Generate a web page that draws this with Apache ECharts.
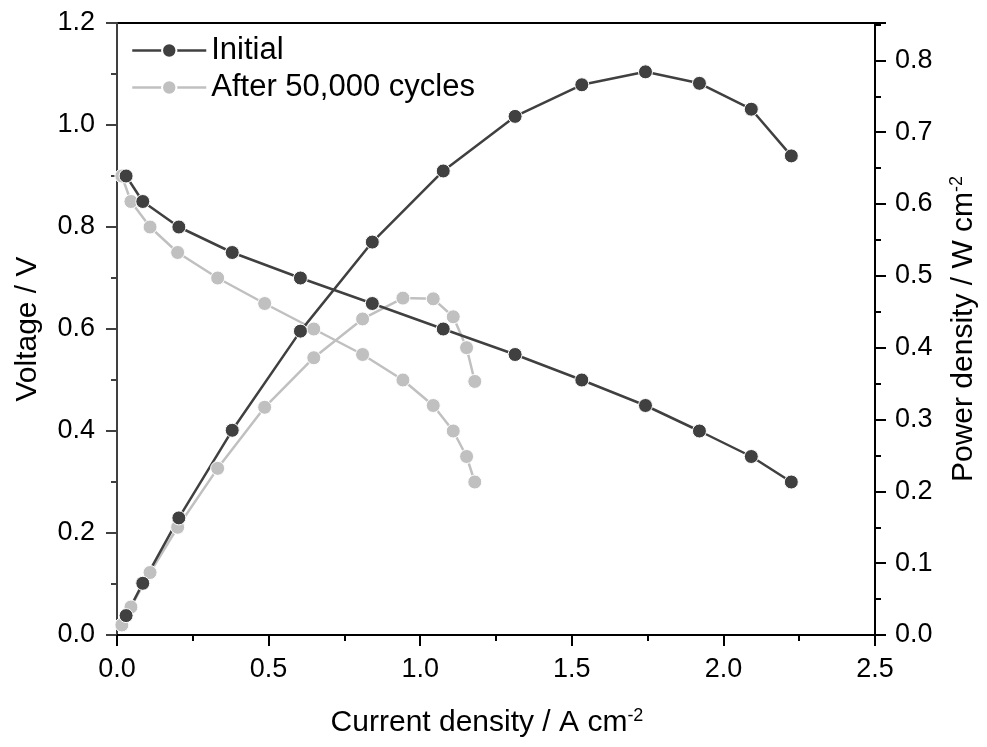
<!DOCTYPE html>
<html><head><meta charset="utf-8">
<script src="https://cdn.jsdelivr.net/npm/echarts@6/dist/echarts.min.js"></script>
<style>html,body{margin:0;padding:0;background:#fff}#c{width:987px;height:747px}</style>
</head><body><div id="c"></div>
<script>
// Initial
const initCurrent = [0.03, 0.085, 0.204, 0.38, 0.605, 0.842, 1.076, 1.313, 1.533, 1.743, 1.921, 2.092, 2.224];
const initVoltage = [0.9, 0.85, 0.8, 0.75, 0.7, 0.65, 0.6, 0.55, 0.5, 0.45, 0.4, 0.35, 0.3];
const initPower   = [0.027, 0.072, 0.163, 0.285, 0.423, 0.547, 0.646, 0.722, 0.766, 0.784, 0.768, 0.732, 0.667];
// After 50,000 cycles
const agedCurrent = [0.016, 0.046, 0.109, 0.2, 0.332, 0.487, 0.649, 0.81, 0.943, 1.043, 1.109, 1.153, 1.18];
const agedVoltage = [0.9, 0.85, 0.8, 0.75, 0.7, 0.65, 0.6, 0.55, 0.5, 0.45, 0.4, 0.35, 0.3];
const agedPower   = [0.014, 0.039, 0.087, 0.15, 0.232, 0.317, 0.386, 0.44, 0.469, 0.468, 0.443, 0.4, 0.353];

const names = ['Initial', 'After 50,000 cycles'];
const DARK = '#404040', LIGHT = '#c0c0c0';
const FONT = 'Liberation Sans';

const pairs = (xs, ys) => xs.map((x, i) => [x, ys[i]]);

function mkSeries(name, color, xs, ys, axis) {
  return {
    name, type: 'line', yAxisIndex: axis,
    data: pairs(xs, ys),
    symbol: 'circle', symbolSize: 14,
    lineStyle: { color, width: 2.5 },
    itemStyle: { color, borderColor: '#fff', borderWidth: 1 },
    emphasis: { disabled: true },
    animation: false
  };
}

const chart = echarts.init(document.getElementById('c'), null, { renderer: 'canvas' });
const axisCommon = (color, margin) => ({
  axisLine: { show: true, lineStyle: { color, width: 2 } },
  axisTick: { show: true, length: 11, inside: false, lineStyle: { color, width: 2 } },
  minorTick: { show: true, splitNumber: 2, length: 6, lineStyle: { color, width: 2 } },
  splitLine: { show: false },
  axisLabel: { color: '#000', fontSize: 27, fontFamily: FONT, margin, formatter: v => v.toFixed(1) }
});
const nameStyle = (pad) => ({
  color: '#000', fontSize: 30, fontFamily: FONT, padding: pad,
  rich: { sup: { fontSize: 18, fontFamily: FONT, color: '#000', verticalAlign: 'top', padding: [0, 0, 14, 0] } }
});

chart.setOption({
  backgroundColor: '#fff',
  animation: false,
  grid: { left: 117, right: 110, top: 23, bottom: 112, show: true, borderColor: '#000', borderWidth: 2, backgroundColor: 'transparent' },
  legend: {
    data: names, orient: 'vertical', left: 126, top: 30,
    itemWidth: 74, itemHeight: 18, itemGap: 6,
    lineStyle: { width: 2.5 },
    textStyle: { fontSize: 31, fontFamily: FONT, color: '#000' },
    selectedMode: false
  },
  xAxis: Object.assign(axisCommon('#000', 21), {
    type: 'value', min: 0, max: 2.5, interval: 0.5,
    name: 'Current density / A cm{sup|-2}', nameLocation: 'middle', nameGap: 72,
    nameTextStyle: nameStyle([0, 18, 0, 0])
  }),
  yAxis: [
    Object.assign(axisCommon(DARK, 22), {
      type: 'value', min: 0, max: 1.2, interval: 0.2, position: 'left',
      name: 'Voltage / V', nameLocation: 'middle', nameGap: 74, nameRotate: 90,
      nameTextStyle: nameStyle(0)
    }),
    Object.assign(axisCommon('#000', 20), {
      type: 'value', min: 0, max: 0.852, interval: 0.1, position: 'right',
      name: 'Power density / W cm{sup|-2}', nameLocation: 'middle', nameGap: 73, nameRotate: 90,
      nameTextStyle: nameStyle(0)
    })
  ],
  series: [
    mkSeries(names[1], LIGHT, agedCurrent, agedVoltage, 0),
    mkSeries(names[1], LIGHT, agedCurrent, agedPower, 1),
    mkSeries(names[0], DARK, initCurrent, initVoltage, 0),
    mkSeries(names[0], DARK, initCurrent, initPower, 1)
  ]
});
chart.setOption({ yAxis: [{}, { axisLabel: { showMaxLabel: false } }] });
</script></body></html>
